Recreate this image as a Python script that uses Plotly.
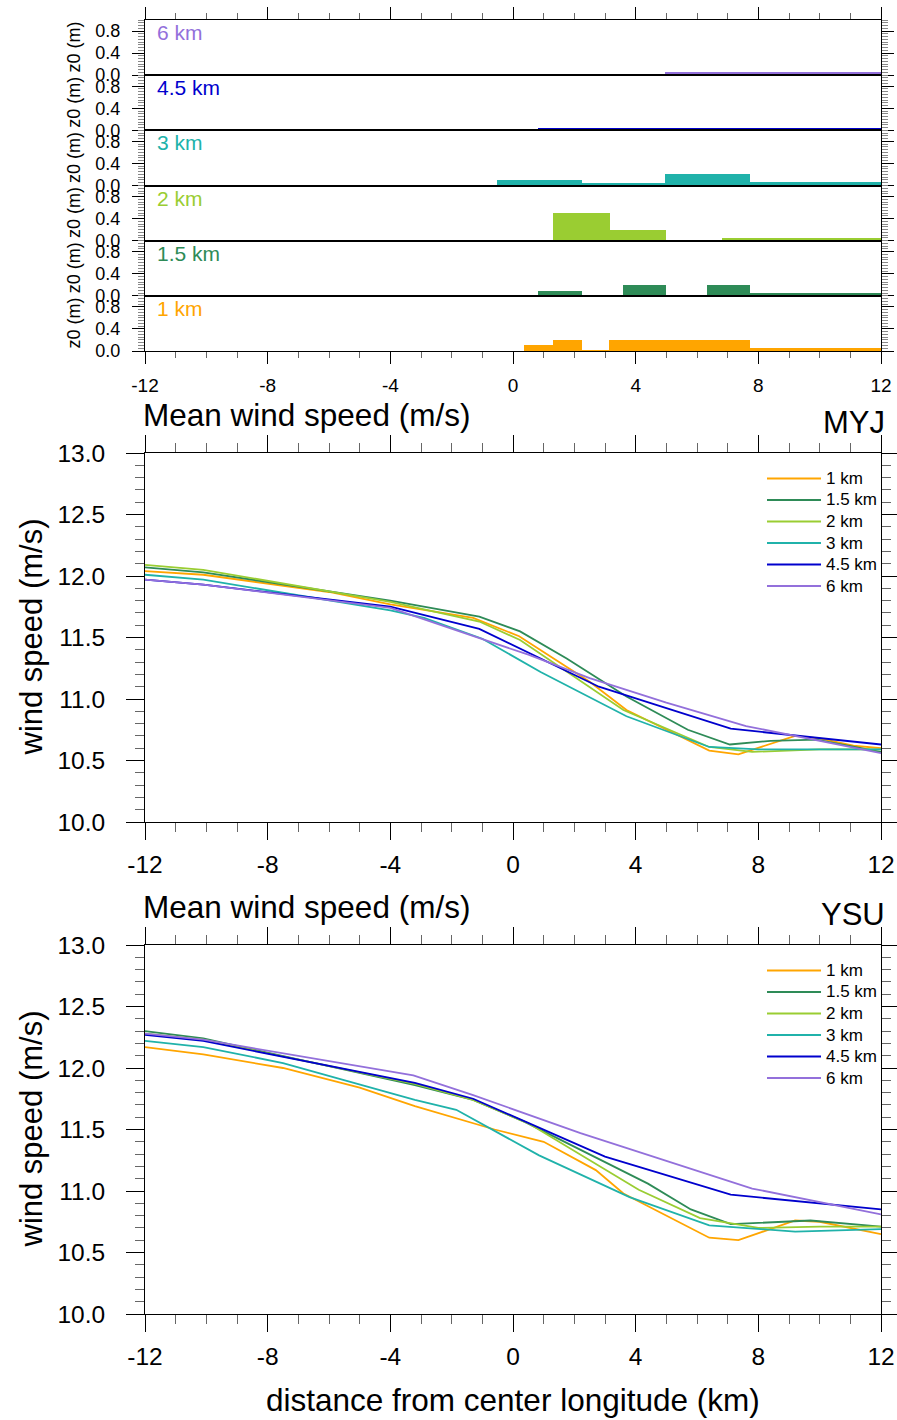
import plotly.graph_objects as go

W, H = 897, 1420
FONT = "Liberation Sans, Arial, Helvetica, sans-serif"

def fx(p):
    return p / W

def fy(p):
    return 1 - p / H

# ---------------- data ----------------
res_labels = ["1 km", "1.5 km", "2 km", "3 km", "4.5 km", "6 km"]
colors = ["#FFA500", "#2E8B57", "#9ACD32", "#20B2AA", "#0000CD", "#9370DB"]

# roughness length z0 (m): bin edges (km) and heights
z0_edges_1km = [0.37, 1.29, 2.24, 3.13, 7.73, 12.0]
z0_vals_1km = [0.11, 0.20, 0.03, 0.20, 0.06]
z0_edges_1p5km = [0.83, 2.24, 3.58, 4.99, 6.31, 7.73, 12.0]
z0_vals_1p5km = [0.10, 0.03, 0.20, 0.03, 0.20, 0.05]
z0_edges_2km = [1.29, 3.16, 4.99, 6.8, 12.0]
z0_vals_2km = [0.51, 0.20, 0.02, 0.05]
z0_edges_3km = [-0.53, 2.24, 4.95, 7.73, 12.0]
z0_vals_3km = [0.09, 0.035, 0.20, 0.05]
z0_edges_4p5km = [0.83, 4.95, 12.0]
z0_vals_4p5km = [0.035, 0.045]
z0_edges_6km = [4.95, 12.0]
z0_vals_6km = [0.05]

# MYJ mean wind speed (m/s)
myj_x_1km = [-12, -10.1, -6, -4, -1.3, 0.2, 2.5, 3.7, 6.4, 7.35, 9.2, 10, 11.1, 12]
myj_y_1km = [12.04, 12.01, 11.87, 11.77, 11.66, 11.51, 11.14, 10.91, 10.58, 10.55, 10.70, 10.68, 10.62, 10.60]
myj_x_1p5km = [-12, -10.1, -4, -1.1, 0.23, 1.75, 3.7, 5.7, 7.07, 8.4, 9.9, 12]
myj_y_1p5km = [12.07, 12.03, 11.80, 11.67, 11.55, 11.33, 11.02, 10.75, 10.63, 10.66, 10.67, 10.57]
myj_x_2km = [-12, -10.1, -4, -1.1, 0.23, 1.75, 3.6, 6.4, 7.8, 10, 12]
myj_y_2km = [12.09, 12.05, 11.79, 11.63, 11.48, 11.22, 10.91, 10.61, 10.57, 10.59, 10.59]
myj_x_3km = [-12, -10.1, -4, -2.9, -1.0, 0.9, 3.7, 6.4, 8.0, 12]
myj_y_3km = [12.01, 11.97, 11.72, 11.66, 11.49, 11.22, 10.86, 10.61, 10.59, 10.59]
myj_x_4p5km = [-12, -10.1, -4, -1.1, 2.8, 7.1, 7.8, 10, 12]
myj_y_4p5km = [11.97, 11.93, 11.75, 11.57, 11.10, 10.76, 10.74, 10.68, 10.63]
myj_x_6km = [-12, -10.1, -4, -1.6, 0.5, 2.5, 5.0, 7.6, 9.0, 12]
myj_y_6km = [11.97, 11.93, 11.74, 11.54, 11.36, 11.17, 10.97, 10.78, 10.71, 10.56]

# YSU mean wind speed (m/s)
ysu_x_1km = [-12, -10.1, -7.5, -5, -3.2, -0.6, 1.0, 2.7, 3.6, 6.4, 7.35, 9.2, 10, 12]
ysu_y_1km = [12.17, 12.11, 12.00, 11.84, 11.69, 11.50, 11.40, 11.17, 10.98, 10.62, 10.60, 10.76, 10.75, 10.65]
ysu_x_1p5km = [-12, -10.1, -3.2, -1.3, 0.4, 4.4, 5.8, 7.1, 9.7, 12]
ysu_y_1p5km = [12.30, 12.24, 11.86, 11.74, 11.56, 11.06, 10.85, 10.73, 10.76, 10.71]
ysu_x_2km = [-12, -10.1, -3.2, -1.3, 0.5, 4.1, 6.1, 8.0, 10, 12]
ysu_y_2km = [12.28, 12.23, 11.87, 11.74, 11.55, 11.01, 10.78, 10.70, 10.71, 10.71]
ysu_x_3km = [-12, -10.1, -7.5, -3.2, -1.85, 0.85, 3.8, 6.4, 9.2, 12]
ysu_y_3km = [12.22, 12.17, 12.04, 11.74, 11.66, 11.29, 10.95, 10.72, 10.67, 10.69]
ysu_x_4p5km = [-12, -10.1, -3.2, -1.3, 3.0, 7.1, 12]
ysu_y_4p5km = [12.27, 12.22, 11.88, 11.75, 11.28, 10.97, 10.85]
ysu_x_6km = [-12, -10.1, -3.25, -1.3, 2.2, 7.8, 12]
ysu_y_6km = [12.28, 12.23, 11.94, 11.78, 11.47, 11.02, 10.81]

x_ticks = [-12, -8, -4, 0, 4, 8, 12]
x_ticktext = ["-12", "-8", "-4", "0", "4", "8", "12"]

# ---------------- figure ----------------
fig = go.Figure()
z0_edges = [z0_edges_1km, z0_edges_1p5km, z0_edges_2km, z0_edges_3km, z0_edges_4p5km, z0_edges_6km]
z0_vals = [z0_vals_1km, z0_vals_1p5km, z0_vals_2km, z0_vals_3km, z0_vals_4p5km, z0_vals_6km]

X0, X1 = 145, 881
PANEL_TOP, PANEL_H = 20, 55.17
annotations = []
shapes = []
layout_axes = {}

# top panels: pos 0 = 6 km (top) ... pos 5 = 1 km (bottom)
order = [5, 4, 3, 2, 1, 0]
for pos, k in enumerate(order):
    n = pos + 1
    top = PANEL_TOP + PANEL_H * pos
    bot = top + PANEL_H
    edges = z0_edges[k]
    vals = z0_vals[k]
    centers = [(edges[i] + edges[i + 1]) / 2 for i in range(len(vals))]
    widths = [edges[i + 1] - edges[i] for i in range(len(vals))]
    fig.add_trace(go.Bar(x=centers, y=vals, width=widths, marker=dict(color=colors[k], line=dict(width=0)),
                         xaxis=f"x{n}", yaxis=f"y{n}", showlegend=False, hoverinfo="skip"))
    xa = dict(domain=[fx(X0), fx(X1)], range=[-12, 12], anchor=f"y{n}", showline=True, linecolor="black",
              linewidth=1, mirror=True, showgrid=False, zeroline=False, tickvals=x_ticks,
              ticktext=x_ticktext, automargin=False,
              tickfont=dict(size=19, color="black", family=FONT))
    if pos == 0:
        xa.update(side="top", ticks="outside", ticklen=12, tickcolor="black", showticklabels=False,
                  minor=dict(ticks="outside", ticklen=6, dtick=1, tick0=0, tickcolor="#666"))
    elif pos == 5:
        xa.update(ticks="outside", ticklen=12, tickcolor="black", showticklabels=True, ticklabelstandoff=5,
                  minor=dict(ticks="outside", ticklen=6, dtick=1, tick0=0, tickcolor="#666"))
    else:
        xa.update(ticks="", showticklabels=False)
    ya = dict(domain=[fy(bot), fy(top)], range=[0, 1], anchor=f"x{n}", showline=True, linecolor="black",
              linewidth=1, mirror="ticks", showgrid=False, zeroline=False, ticks="outside", ticklen=12,
              tickcolor="black", tickvals=[0, 0.4, 0.8], ticktext=["0.0", "0.4", "0.8"], automargin=False,
              tickfont=dict(size=18, color="black", family=FONT), ticklabelstandoff=8,
              minor=dict(ticks="outside", ticklen=6, dtick=0.05, tick0=0, tickcolor="#888"))
    layout_axes[f"xaxis{n}"] = xa
    layout_axes[f"yaxis{n}"] = ya
    annotations.append(dict(x=fx(155), y=fy(top + 12.5), xref="paper", yref="paper", text=res_labels[k],
                            showarrow=False, xanchor="left", yanchor="middle",
                            font=dict(size=21, color=colors[k], family=FONT)))
    annotations.append(dict(x=fx(74), y=fy((top + bot) / 2), xref="paper", yref="paper", text="z0 (m)",
                            showarrow=False, textangle=-90, xanchor="center", yanchor="middle",
                            font=dict(size=18, color="black", family=FONT)))

# wind-speed panels
myj_x = [myj_x_1km, myj_x_1p5km, myj_x_2km, myj_x_3km, myj_x_4p5km, myj_x_6km]
myj_y = [myj_y_1km, myj_y_1p5km, myj_y_2km, myj_y_3km, myj_y_4p5km, myj_y_6km]
ysu_x = [ysu_x_1km, ysu_x_1p5km, ysu_x_2km, ysu_x_3km, ysu_x_4p5km, ysu_x_6km]
ysu_y = [ysu_y_1km, ysu_y_1p5km, ysu_y_2km, ysu_y_3km, ysu_y_4p5km, ysu_y_6km]

LEG_ROW = 21.5
panels = [(7, 453, 822, myj_x, myj_y, 478.5, "MYJ"), (8, 945, 1314, ysu_x, ysu_y, 970.5, "YSU")]
for n, top, bot, xs, ys, leg_y0, name in panels:
    for k in range(6):
        fig.add_trace(go.Scatter(x=xs[k], y=ys[k], mode="lines", name=res_labels[k],
                                 line=dict(color=colors[k], width=1.8), xaxis=f"x{n}", yaxis=f"y{n}",
                                 showlegend=False))
        ly = leg_y0 + LEG_ROW * k
        shapes.append(dict(type="line", xref="paper", yref="paper", x0=fx(767), x1=fx(821), y0=fy(ly),
                           y1=fy(ly), line=dict(color=colors[k], width=1.8)))
        annotations.append(dict(x=fx(824), y=fy(ly), xref="paper", yref="paper", text=res_labels[k],
                                showarrow=False, xanchor="left", yanchor="middle",
                                font=dict(size=17, color="black", family=FONT)))
    layout_axes[f"xaxis{n}"] = dict(domain=[fx(X0), fx(X1)], range=[-12, 12], anchor=f"y{n}", showline=True,
                                    linecolor="black", linewidth=1, mirror="ticks", showgrid=False,
                                    zeroline=False, ticks="outside", ticklen=17, tickcolor="black",
                                    tickvals=x_ticks, ticktext=x_ticktext, automargin=False,
                                    tickfont=dict(size=24.5, color="black", family=FONT),
                                    ticklabelstandoff=4,
                                    minor=dict(ticks="outside", ticklen=9, dtick=1, tick0=0, tickcolor="#666"))
    layout_axes[f"yaxis{n}"] = dict(domain=[fy(bot), fy(top)], range=[10, 13], anchor=f"x{n}", showline=True,
                                    linecolor="black", linewidth=1, mirror="ticks", showgrid=False,
                                    zeroline=False, ticks="outside", ticklen=18, tickcolor="black",
                                    dtick=0.5, tick0=10, tickformat=".1f", automargin=False,
                                    tickfont=dict(size=24.5, color="black", family=FONT), ticklabelstandoff=16,
                                    minor=dict(ticks="outside", ticklen=9, dtick=0.1, tick0=10,
                                               tickcolor="#666"))
    annotations.append(dict(x=fx(141), y=fy(top - 38), xref="paper", yref="paper",
                            text="Mean wind speed (m/s)", showarrow=False, xanchor="left", yanchor="middle",
                            font=dict(size=31.5, color="black", family=FONT)))
    annotations.append(dict(x=fx(887), y=fy(top - 31), xref="paper", yref="paper", text=name,
                            showarrow=False, xanchor="right", yanchor="middle",
                            font=dict(size=31, color="black", family=FONT)))
    annotations.append(dict(x=fx(31), y=fy((top + bot) / 2), xref="paper", yref="paper",
                            text="wind speed (m/s)", showarrow=False, textangle=-90, xanchor="center",
                            yanchor="middle", font=dict(size=31, color="black", family=FONT)))

annotations.append(dict(x=fx(513), y=fy(1400), xref="paper", yref="paper",
                        text="distance from center longitude (km)", showarrow=False, xanchor="center",
                        yanchor="middle", font=dict(size=31.5, color="black", family=FONT)))

fig.update_layout(
    width=W, height=H, margin=dict(l=0, r=0, t=0, b=0, autoexpand=False), paper_bgcolor="white",
    plot_bgcolor="white", showlegend=False,
    font=dict(family=FONT, color="black"), barmode="overlay", bargap=0, annotations=annotations,
    shapes=shapes,
    **layout_axes,
)
fig.write_html("out.html")
